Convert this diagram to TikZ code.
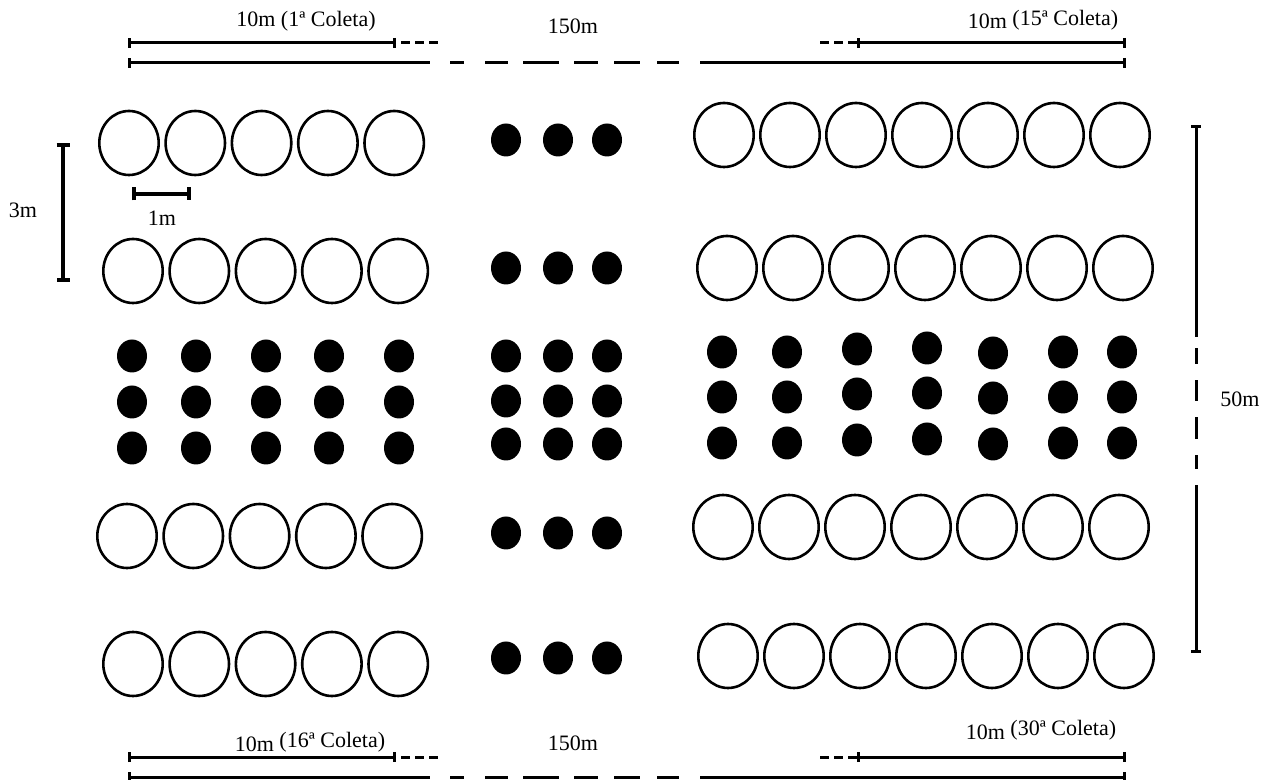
\documentclass[tikz,border=0pt]{standalone}
\usepackage{fontspec}
\setmainfont{Liberation Serif}
\usetikzlibrary{arrows.meta, shapes.geometric}

\begin{document}
\begin{tikzpicture}[
    x=0.5pt, y=-0.5pt,
    every node/.style={font=\fontsize{11}{13}\selectfont, inner sep=0pt},
    plant/.style={ellipse, draw, line width=1.3pt, minimum width=29.7pt, minimum height=32pt},
    seed/.style={ellipse, fill, minimum width=15pt, minimum height=16.5pt},
    dimline/.style={line width=1.5pt},
    ends/.style={{Bar[width=5pt]}-{Bar[width=5pt]}},
    shortdash/.style={dash pattern=on 4.5pt off 2.5pt},
    gapline/.style={dash pattern=on 150pt off 10pt on 7pt off 10.5pt on 11.5pt off 7.5pt on 18pt off 7.5pt on 12pt off 8pt on 13pt off 8.5pt on 11pt off 10.5pt on 214pt}
  ]
    \useasboundingbox (0,0) rectangle (1265,780);

    % top scale
    \node (top1) at (306,21) {10m (1ª Coleta)};
    \node (top150) at (573,26) {150m};
    \node (top15) at (1043,20) {10m \raisebox{1.5pt}{(15ª Coleta)}};
    \coordinate (ta1) at (128,43);
    \coordinate (ta2) at (396,43);
    \coordinate (ta3) at (438,43);
    \coordinate (tb1) at (820,43);
    \coordinate (tb2) at (857,43);
    \coordinate (tb3) at (1126,43);
    \coordinate (tc1) at (128,63);
    \coordinate (tc2) at (1126,63);
    \draw[dimline, ends] (ta1) -- (ta2);
    \draw[dimline, shortdash, dash phase=4.5pt] (ta2) -- (ta3);
    \draw[dimline, shortdash] (tb1) -- (tb2);
    \draw[dimline, ends] (tb2) -- (tb3);
    \draw[dimline, gapline, ends] (tc1) -- (tc2);

    % bottom scale
    \node (bot16) at (310,742) {10m \raisebox{2pt}{(16ª Coleta)}};
    \node (bot150) at (573,743) {150m};
    \node (bot30) at (1041,730) {10m \raisebox{2pt}{(30ª Coleta)}};
    \coordinate (ba1) at (128,757);
    \coordinate (ba2) at (396,757);
    \coordinate (ba3) at (438,757);
    \coordinate (bb1) at (820,757);
    \coordinate (bb2) at (857,757);
    \coordinate (bb3) at (1126,757);
    \coordinate (bc1) at (128,777);
    \coordinate (bc2) at (1126,777);
    \draw[dimline, ends] (ba1) -- (ba2);
    \draw[dimline, shortdash, dash phase=4.5pt] (ba2) -- (ba3);
    \draw[dimline, shortdash] (bb1) -- (bb2);
    \draw[dimline, ends] (bb2) -- (bb3);
    \draw[dimline, gapline, ends] (bc1) -- (bc2);

    % 3m, 1m and 50m bars
    \node (lab3) at (23,210) {3m};
    \coordinate (m3a) at (63,143);
    \coordinate (m3b) at (63,282);
    \draw[line width=2.2pt, {Bar[width=6.5pt]}-{Bar[width=6.5pt]}] (m3a) -- (m3b);
    \node (lab1) at (162,218) {1m};
    \coordinate (m1a) at (132,194);
    \coordinate (m1b) at (191,194);
    \draw[line width=1.9pt, {Bar[width=6.5pt]}-{Bar[width=6.5pt]}] (m1a) -- (m1b);
    \node (lab50) at (1240,399) {50m};
    \coordinate (m50a) at (1196,125);
    \coordinate (m50b) at (1196,653);
    \draw[line width=1.5pt, ends, dash pattern=on 105pt off 5.5pt on 8pt off 8pt on 10.5pt off 8pt on 11pt off 8pt on 7pt off 8pt on 85pt] (m50a) -- (m50b);

    % plants
    \foreach \r/\y/\x in {1/143/129, 2/271/133, 3/536/127, 4/664/133}
      \foreach \c in {0,...,4}
        \node[plant] (L-\r-\c) at ({\x+66.3*\c},\y) {};
    \foreach \r/\y/\x in {1/135/724, 2/268/727, 3/527/723, 4/656/728}
      \foreach \c in {0,...,6}
        \node[plant] (R-\r-\c) at ({\x+66*\c},\y) {};

    % seeds
    \foreach \r/\y in {1/140, 2/268, 3/356, 4/401, 5/444, 6/533, 7/658}
      \foreach \c/\x in {1/506, 2/558, 3/607}
        \node[seed] (M-\r-\c) at (\x,\y) {};
    \foreach \r/\y in {1/356, 2/402, 3/448}
      \foreach \c/\x in {1/132, 2/196, 3/266, 4/329, 5/399}
        \node[seed] (SL-\r-\c) at (\x,\y) {};
    \foreach \r/\y in {1/352, 2/397, 3/443}
      \foreach \c/\x/\dy in {1/722/0, 2/787/0, 3/857/-3, 4/927/-4, 5/993/1, 6/1063/0, 7/1122/0}
        \node[seed] (SR-\r-\c) at (\x,{\y+\dy}) {};
\end{tikzpicture}
\end{document}
